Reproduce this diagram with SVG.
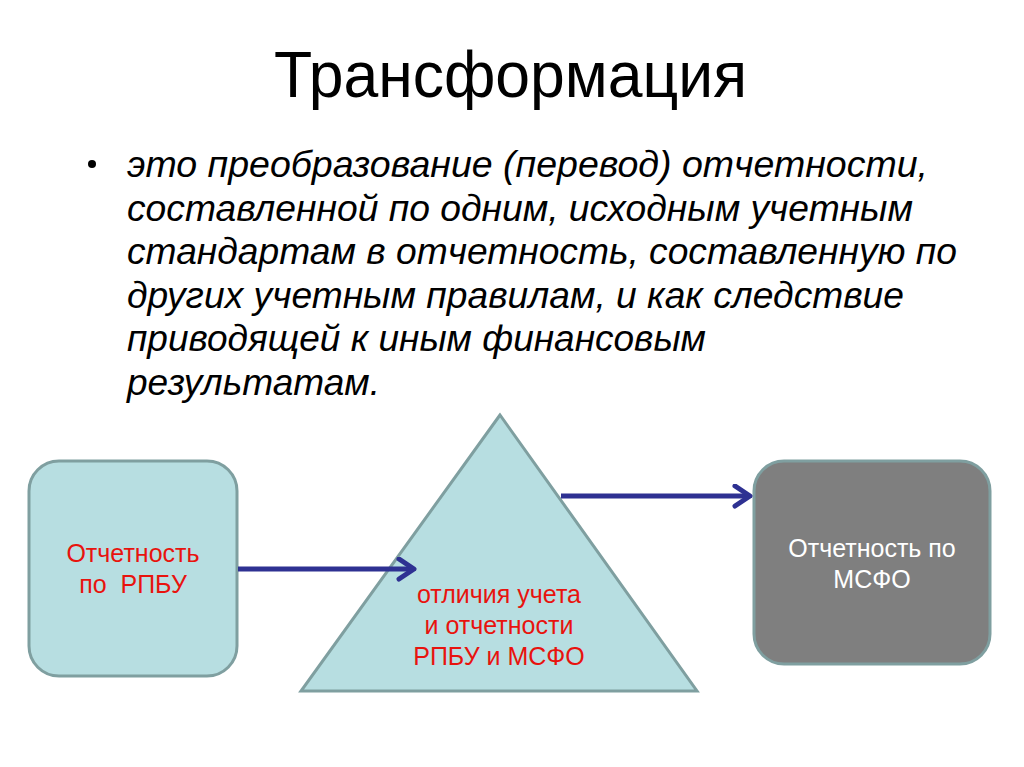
<svg xmlns="http://www.w3.org/2000/svg" width="1024" height="767" viewBox="0 0 1024 767">
<style>
.title{font-family:"Liberation Sans",Arial,sans-serif;font-size:64px;fill:#000}
.body{font-family:"Liberation Sans",Arial,sans-serif;font-size:37px;font-style:italic;fill:#000}
.lbl{font-family:"Liberation Sans",Arial,sans-serif;font-size:25px;text-anchor:middle;white-space:pre}
.red{fill:#e8130e}
.white{fill:#fff}
.shape{stroke:#7f9fa0;stroke-width:3}
.conn{stroke:#2e3192;stroke-width:5;fill:none}
</style>
<defs>
<marker id="arr" viewBox="0 0 10 10" refX="8" refY="5" markerWidth="5" markerHeight="5" markerUnits="strokeWidth" orient="auto">
<path d="M2,1 L8,5 L2,9" fill="none" stroke="#2e3192" stroke-width="2" stroke-linecap="round" stroke-linejoin="round"/>
</marker>
</defs>
<rect width="1024" height="767" fill="#fff"/>
<text class="title" x="274" y="97" textLength="473" lengthAdjust="spacingAndGlyphs">Трансформация</text>
<circle cx="92" cy="164" r="4" fill="#000"/>
<g class="body">
<text x="127" y="177" textLength="801" lengthAdjust="spacingAndGlyphs">это преобразование (перевод) отчетности,</text>
<text x="127" y="221" textLength="786" lengthAdjust="spacingAndGlyphs">составленной по одним, исходным учетным</text>
<text x="127" y="264" textLength="830" lengthAdjust="spacingAndGlyphs">стандартам в отчетность, составленную по</text>
<text x="127" y="308" textLength="777" lengthAdjust="spacingAndGlyphs">других учетным правилам, и как следствие</text>
<text x="127" y="351" textLength="579" lengthAdjust="spacingAndGlyphs">приводящей к иным финансовым</text>
<text x="127" y="395" textLength="253" lengthAdjust="spacingAndGlyphs">результатам.</text>
</g>
<g id="node-rpbu">
<rect class="shape" x="29" y="461" width="208" height="215" rx="30" fill="#b7dee1"/>
<text class="lbl red" x="133" y="562">Отчетность</text>
<text class="lbl red" x="133" y="593" xml:space="preserve">по  РПБУ</text>
</g>
<g id="node-diff">
<polygon class="shape" points="500,415 301,691 697,691" fill="#b7dee1"/>
<text class="lbl red" x="499" y="603">отличия учета</text>
<text class="lbl red" x="499" y="634">и отчетности</text>
<text class="lbl red" x="499" y="665">РПБУ и МСФО</text>
</g>
<g id="node-msfo">
<rect class="shape" x="754" y="461" width="236" height="203" rx="30" fill="#7f7f7f"/>
<text class="lbl white" x="872" y="557">Отчетность по</text>
<text class="lbl white" x="872" y="588">МСФО</text>
</g>
<g id="connectors">
<line class="conn" x1="238" y1="569" x2="414" y2="569" marker-end="url(#arr)"/>
<line class="conn" x1="561" y1="496" x2="750" y2="496" marker-end="url(#arr)"/>
</g>
</svg>
